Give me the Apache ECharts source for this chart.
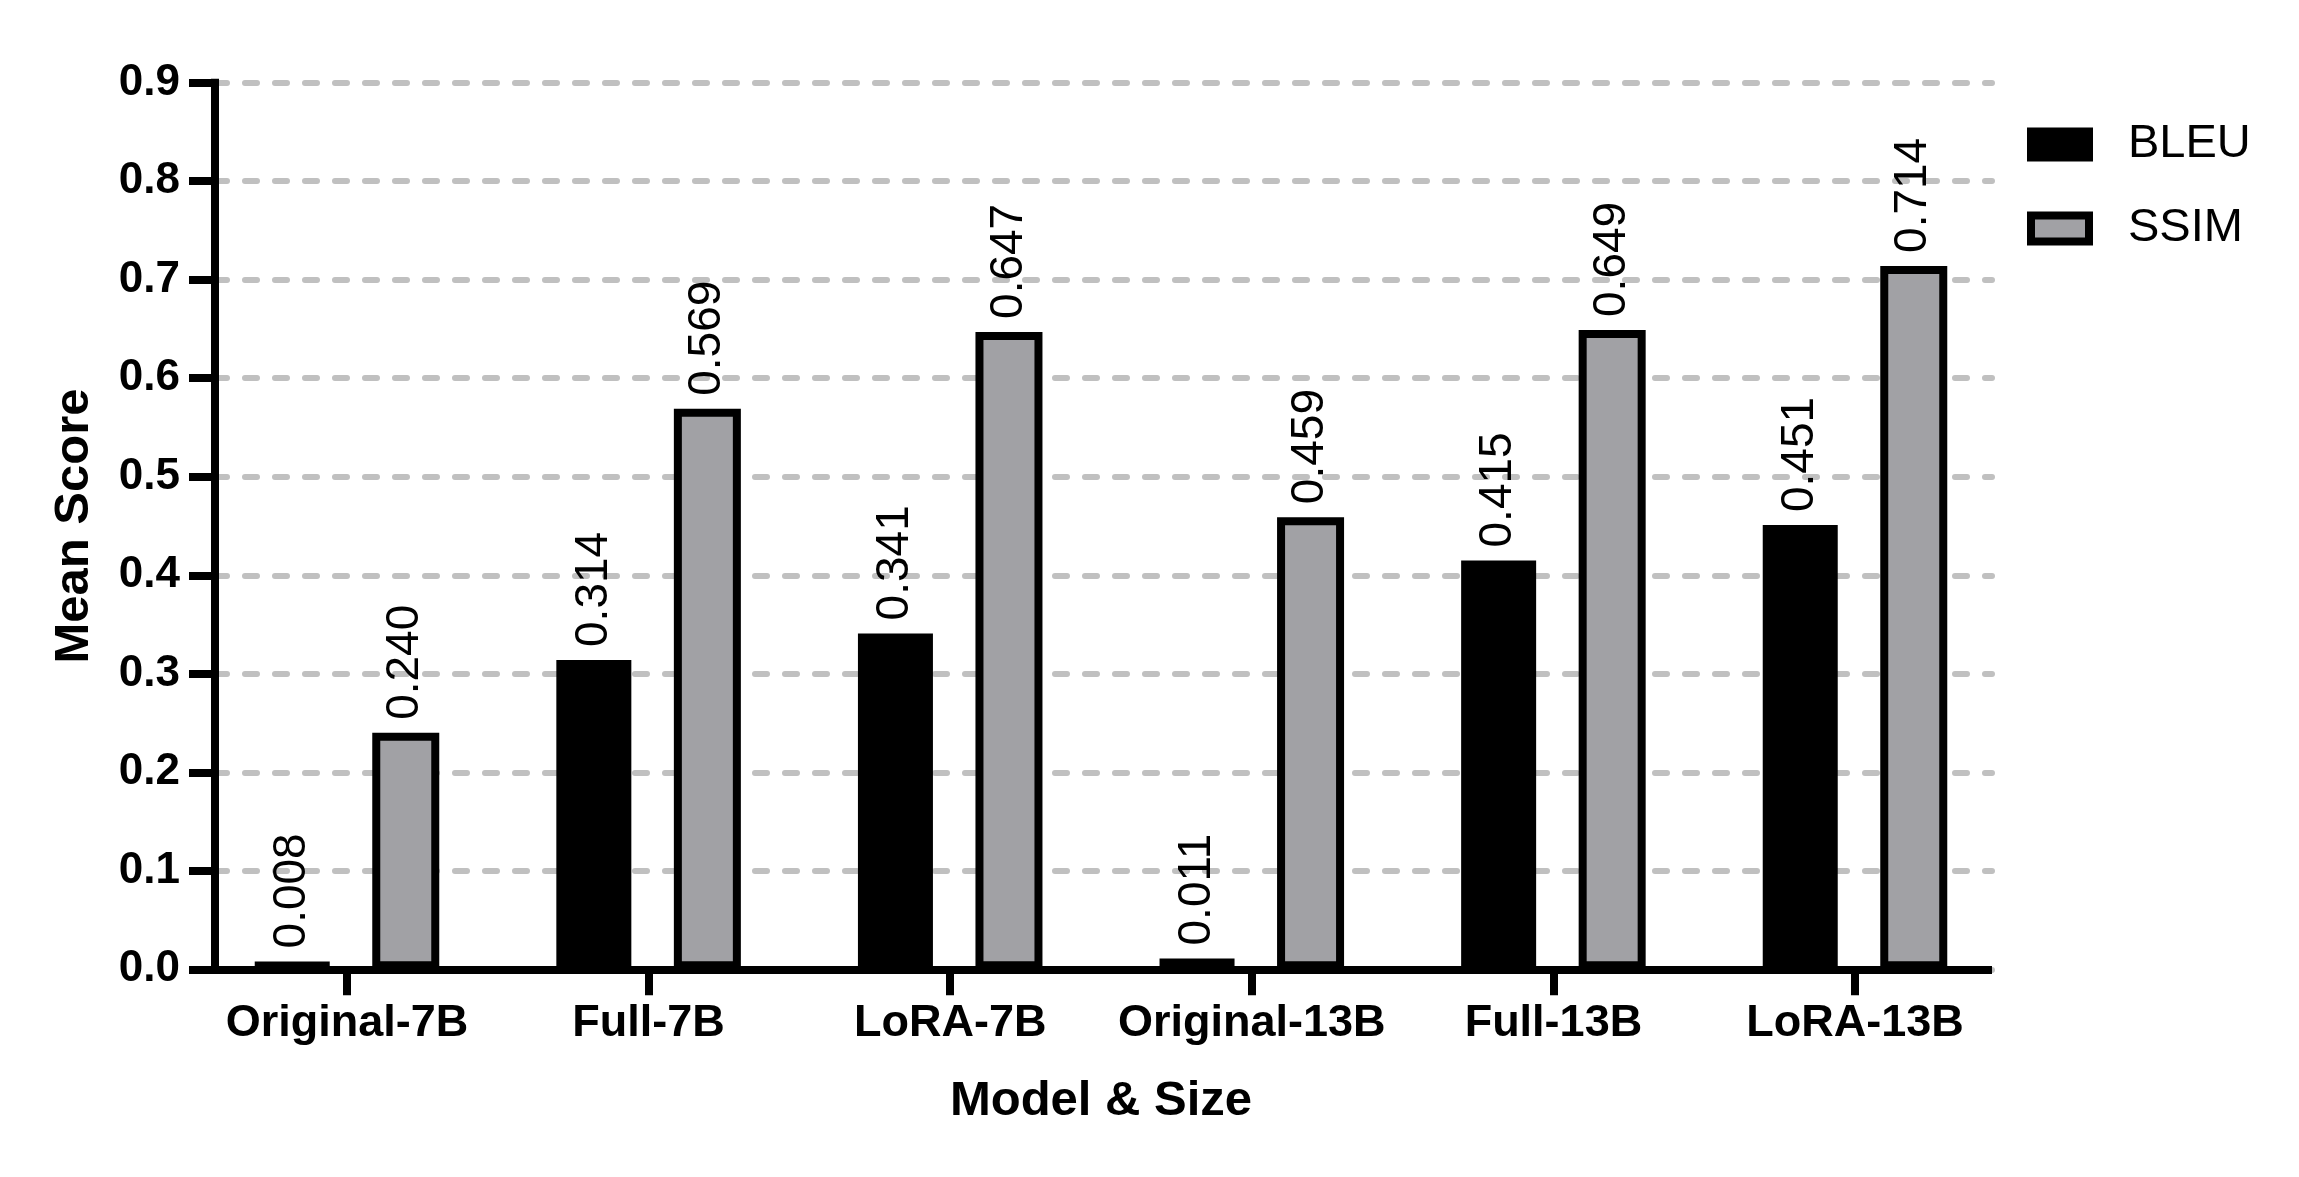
<!DOCTYPE html>
<html>
<head>
<meta charset="utf-8">
<script src="https://cdn.jsdelivr.net/npm/echarts@6/dist/echarts.min.js"></script>
<style>
  html, body { margin: 0; padding: 0; background: #ffffff; }
  #chart { width: 2299px; height: 1177px; }
</style>
</head>
<body>
<div id="chart"></div>
<script>
const categories = ['Original-7B', 'Full-7B', 'LoRA-7B', 'Original-13B', 'Full-13B', 'LoRA-13B'];
const bleuValues = [0.008, 0.314, 0.341, 0.011, 0.415, 0.451];
const ssimValues = [0.240, 0.569, 0.647, 0.459, 0.649, 0.714];
const yTicks = [0.0, 0.1, 0.2, 0.3, 0.4, 0.5, 0.6, 0.7, 0.8, 0.9];
const seriesNames = ['BLEU', 'SSIM'];

const FONT = '"Liberation Sans", Arial, Helvetica, sans-serif';
const chart = echarts.init(document.getElementById('chart'), null, { renderer: 'canvas' });

const yMin = yTicks[0];
const yMax = yTicks[yTicks.length - 1];
const yStep = 0.1;

const dataLabel = {
  show: true,
  position: 'top',
  distance: 13,
  rotate: 90,
  align: 'left',
  verticalAlign: 'middle',
  color: '#000',
  fontFamily: FONT,
  fontSize: 46,
  fontWeight: 'normal',
  formatter: p => p.value.toFixed(3)
};

const option = {
  backgroundColor: '#ffffff',
  animation: false,
  grid: [
    { left: 196.2, right: 293.2, top: 82.7, bottom: 207.7, containLabel: false },
    { left: 215, right: 307, top: 82.7, bottom: 207.7, containLabel: false }
  ],
  legend: {
    orient: 'vertical',
    left: 2022,
    top: 116,
    padding: 5,
    itemWidth: 58,
    itemHeight: 26,
    itemGap: 37,
    icon: 'rect',
    data: seriesNames,
    itemStyle: { borderColor: '#000', borderWidth: 8 },
    textStyle: {
      fontFamily: FONT,
      fontSize: 47,
      color: '#000',
      padding: [0, 0, 0, 34]
    }
  },
  xAxis: [
    {
      gridIndex: 0,
      type: 'category',
      data: categories,
      boundaryGap: true,
      axisLine: { show: false },
      axisTick: { show: true, alignWithLabel: true, interval: 0, length: 26, lineStyle: { color: '#000', width: 8 } },
      axisLabel: { interval: 0, margin: 32, color: '#000', fontFamily: FONT, fontSize: 45, fontWeight: 'bold' },
      splitLine: { show: false },
      name: 'Model & Size',
      nameLocation: 'middle',
      nameGap: 108,
      nameTextStyle: { color: '#000', fontFamily: FONT, fontSize: 49, fontWeight: 'bold' }
    },
    {
      gridIndex: 1,
      type: 'value',
      min: 0,
      max: 1,
      axisLine: { show: true, lineStyle: { color: '#000', width: 8, cap: 'butt' } },
      axisTick: { show: false },
      axisLabel: { show: false },
      splitLine: { show: false }
    }
  ],
  yAxis: [
    {
      gridIndex: 0,
      type: 'value',
      min: yMin,
      max: yMax,
      interval: yStep,
      show: false,
      splitLine: { show: false }
    },
    {
      gridIndex: 1,
      type: 'value',
      min: yMin,
      max: yMax,
      interval: yStep,
      axisLine: { show: true, lineStyle: { color: '#000', width: 8, cap: 'square' } },
      axisTick: { show: true, length: 26, lineStyle: { color: '#000', width: 8 } },
      axisLabel: {
        margin: 35,
        color: '#000',
        fontFamily: FONT,
        fontSize: 44,
        fontWeight: 'bold',
        formatter: v => v.toFixed(1)
      },
      splitLine: {
        show: true,
        lineStyle: { color: '#c0c0c0', width: 6, type: [12, 18], cap: 'round' }
      },
      name: 'Mean Score',
      nameLocation: 'middle',
      nameRotate: 90,
      nameGap: 116,
      nameTextStyle: { color: '#000', fontFamily: FONT, fontSize: 49, fontWeight: 'bold' }
    }
  ],
  series: [
    {
      name: seriesNames[0],
      type: 'bar',
      xAxisIndex: 0,
      yAxisIndex: 0,
      data: bleuValues,
      barWidth: 75,
      barGap: '56.7%',
      itemStyle: { color: '#000000' },
      label: dataLabel,
      z: 3
    },
    {
      name: seriesNames[1],
      type: 'bar',
      xAxisIndex: 0,
      yAxisIndex: 0,
      data: ssimValues,
      barWidth: 67,
      barGap: '56.7%',
      itemStyle: { color: '#a1a1a5', borderColor: '#000000', borderWidth: 8 },
      label: dataLabel,
      z: 3
    }
  ]
};

chart.setOption(option);
</script>
</body>
</html>
